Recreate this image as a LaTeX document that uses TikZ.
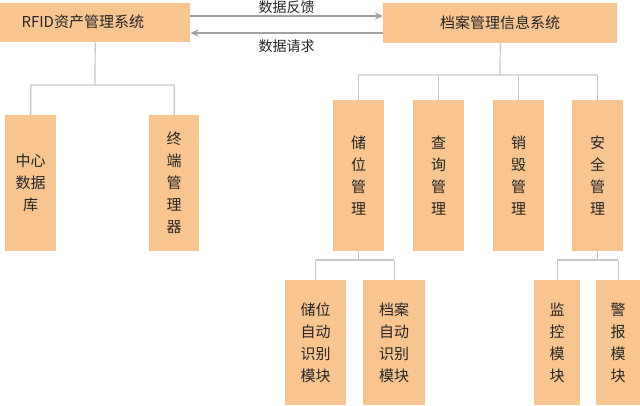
\documentclass[tikz,border=0pt]{standalone}
\usepackage{fontspec}
\setmainfont{Noto Sans CJK SC}
\usetikzlibrary{arrows.meta}
\definecolor{boxc}{HTML}{F8C48F}
\definecolor{linec}{HTML}{C8C8C8}
\tikzset{box/.style={fill=boxc,draw=none,inner sep=0pt,align=center,font=\fontsize{15}{22}\selectfont,text=black!85},
 conn/.style={draw=linec,line width=1.2pt},
 arr/.style={draw=linec!80!black,line width=1.2pt,-{Stealth[length=8pt,width=7pt]}},
 lab/.style={font=\fontsize{14}{16}\selectfont,text=black!85}}
\newcommand{\bx}[6]{\node[box,minimum width=#3pt-#2pt,minimum height=#5pt-#4pt,anchor=north west] (#1) at (#2,#4) {#6};}
\begin{document}
\begin{tikzpicture}[x=1pt,y=-1pt]
\useasboundingbox (0,0) rectangle (640,405);
\fill[white] (0,0) rectangle (640,405);
\bx{rfid}{0}{190}{3}{42}{}
\node[anchor=west,font=\fontsize{15}{18}\selectfont,text=black!85] at (18,22) {RFID资产管理系统};
\bx{dams}{383}{617}{3}{43}{档案管理信息系统}
\bx{zx}{5}{56}{115}{251}{中心\\数据\\库}
\bx{zd}{149}{199}{115}{251}{终\\端\\管\\理\\器}
\bx{cw}{333}{384}{100}{251}{储\\位\\管\\理}
\bx{cx}{413}{464}{100}{251}{查\\询\\管\\理}
\bx{xh}{493}{544}{100}{251}{销\\毁\\管\\理}
\bx{aq}{572}{623}{100}{251}{安\\全\\管\\理}
\bx{cwm}{285}{346}{280}{405}{储位\\自动\\识别\\模块}
\bx{dam}{363}{425}{280}{405}{档案\\自动\\识别\\模块}
\bx{jk}{534}{580}{280}{405}{监\\控\\模\\块}
\bx{jb}{596}{640}{280}{405}{警\\报\\模\\块}
\draw[arr] (rfid.east|-0,16) -- (dams.west|-0,16) node[midway,above=-2pt,lab]{数据反馈};
\draw[arr] (dams.west|-0,33) -- (rfid.east|-0,33) node[midway,below=3pt,lab]{数据请求};
\draw[conn] (rfid.south) -- (95,85) (zx.north|-0,85) -- (zd.north|-0,85) (zx.north) -- (zx.north|-0,85) (zd.north) -- (zd.north|-0,85);
\draw[conn] (dams.south) -- (500,75) (cw.north|-0,75) -- (aq.north|-0,75);
\foreach \n in {cw,cx,xh,aq} \draw[conn] (\n.north) -- (\n.north|-0,75);
\draw[conn] (cw.south) -- (cw.south|-0,260) (cwm.north|-0,260) -- (dam.north|-0,260) (cwm.north) -- (cwm.north|-0,260) (dam.north) -- (dam.north|-0,260);
\draw[conn] (aq.south) -- (aq.south|-0,260) (jk.north|-0,260) -- (jb.north|-0,260) (jk.north) -- (jk.north|-0,260) (jb.north) -- (jb.north|-0,260);
\end{tikzpicture}
\end{document}
